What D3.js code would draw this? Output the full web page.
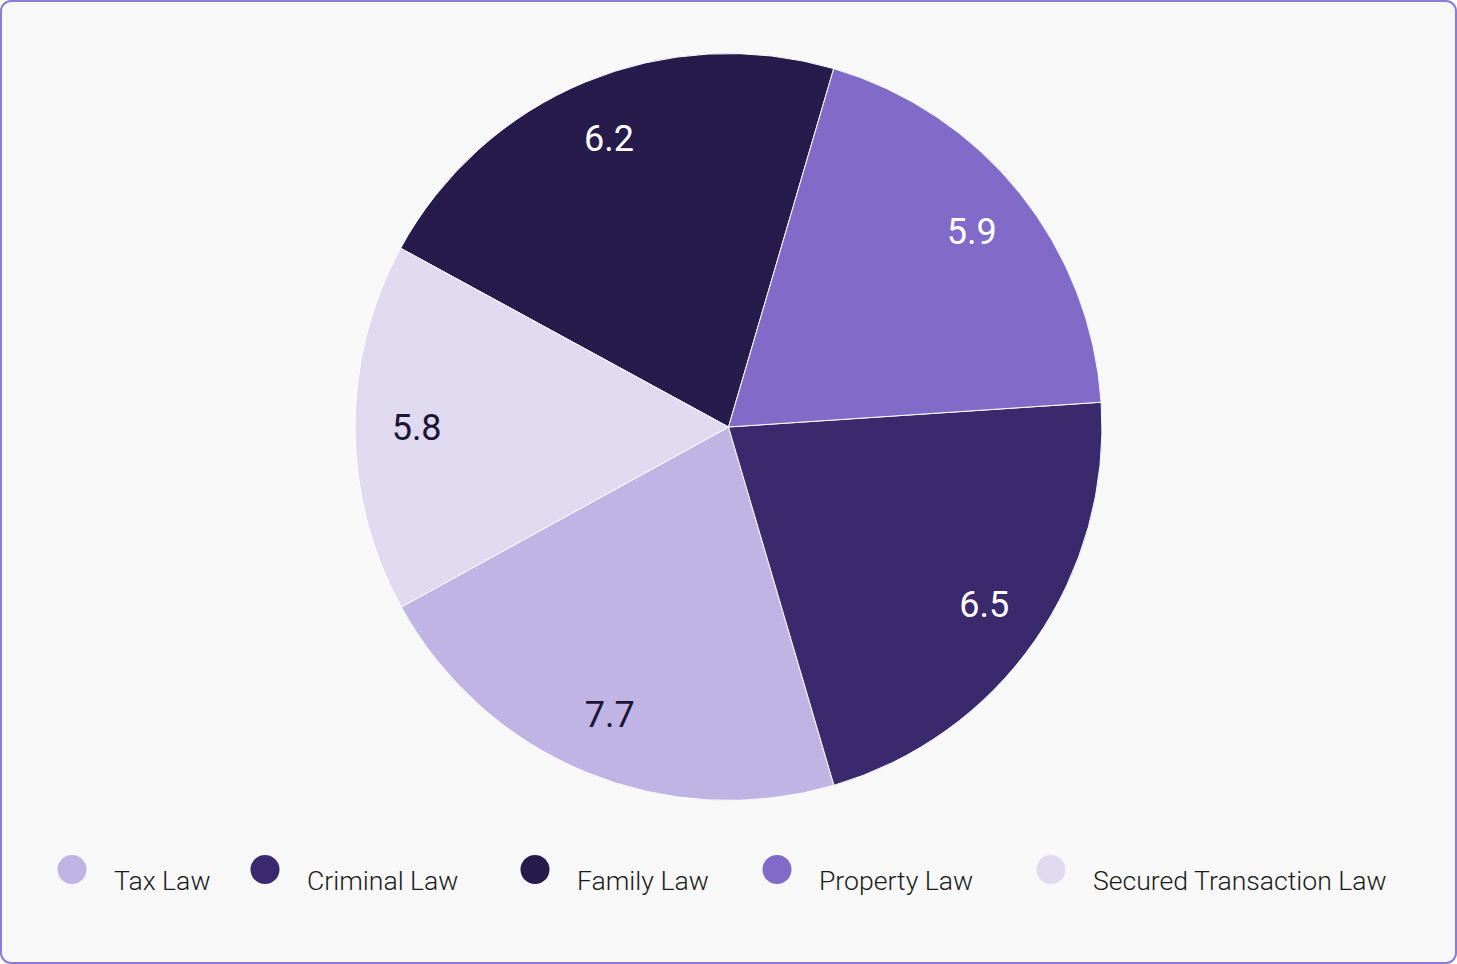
<!DOCTYPE html>
<html>
<head>
<meta charset="utf-8">
<script src="https://cdn.jsdelivr.net/npm/d3@7"></script>
<style>
  html, body { margin: 0; padding: 0; background: #fff; }
  svg { display: block; font-family: Roboto, "Noto Sans", sans-serif; }
</style>
</head>
<body>
<svg id="chart" width="1457" height="964"></svg>
<script>
// data
const categories = ['Tax Law', 'Criminal Law', 'Family Law', 'Property Law', 'Secured Transaction Law']
const values = [7.7, 6.5, 6.2, 5.9, 5.8]
// share of the circle each slice takes in the picture (%)
const sliceShares = [21.55, 21.5, 21.6, 19.4, 15.95]
// clockwise order of the slices, starting at the Tax Law slice
const drawOrder = ['Tax Law', 'Secured Transaction Law', 'Family Law', 'Property Law', 'Criminal Law']
const colors = ['#c0b4e4', '#3b296e', '#261b4b', '#826ac8', '#dfdaf0']
const labelColors = ['#1c1535', '#ffffff', '#ffffff', '#ffffff', '#1c1535']

const svgEl = document.getElementById('chart')
const width = +svgEl.getAttribute('width')
const height = +svgEl.getAttribute('height')
const svg = d3.select('#chart')

const cx = 728.5
const cy = 427
const radius = 373.5
const startDeg = 163.6

const data = categories.map((c, i) => ({
	name: c,
	value: values[i],
	share: sliceShares[i],
	color: colors[i],
	labelColor: labelColors[i]
}))

// card
svg.append('rect')
	.attr('x', 1)
	.attr('y', 1)
	.attr('width', width - 2)
	.attr('height', height - 2)
	.attr('rx', 10)
	.attr('fill', '#f8f8f8')
	.attr('stroke', '#8c7bd6')
	.attr('stroke-width', 2)

const pie = d3.pie()
	.value(d => d.share)
	.sort((a, b) => drawOrder.indexOf(a.name) - drawOrder.indexOf(b.name))
	.startAngle(startDeg * Math.PI / 180)
	.endAngle((startDeg + 360) * Math.PI / 180)

const arc = d3.arc().innerRadius(0).outerRadius(radius)
const labelArc = d3.arc().innerRadius(radius * 0.835).outerRadius(radius * 0.835)

const g = svg.append('g').attr('transform', `translate(${cx}, ${cy})`)

const slices = g.selectAll('g.slice')
	.data(pie(data))
	.enter()
	.append('g')
		.attr('class', 'slice')

slices.append('path')
	.attr('d', arc)
	.attr('fill', d => d.data.color)
	.attr('stroke', '#ffffff')
	.attr('stroke-width', 1)

slices.append('text')
	.attr('transform', d => `translate(${labelArc.centroid(d)})`)
	.attr('text-anchor', 'middle')
	.attr('dominant-baseline', 'central')
	.attr('font-size', '36px')
	.attr('fill', d => d.data.labelColor)
	.text(d => d.data.value)

// legend
const legendX = [72, 265, 535, 777, 1051]
const legend = svg.selectAll('g.legend')
	.data(data)
	.enter()
	.append('g')
		.attr('class', 'legend')
		.attr('transform', (d, i) => `translate(${legendX[i]}, 869.5)`)

legend.append('circle')
	.attr('r', 14.5)
	.attr('fill', d => d.color)

legend.append('text')
	.attr('x', 42)
	.attr('y', 20)
	.attr('font-size', '26.6px')
	.attr('font-weight', 300)
	.attr('fill', '#1a1a1a')
	.text(d => d.name)
</script>
</body>
</html>
